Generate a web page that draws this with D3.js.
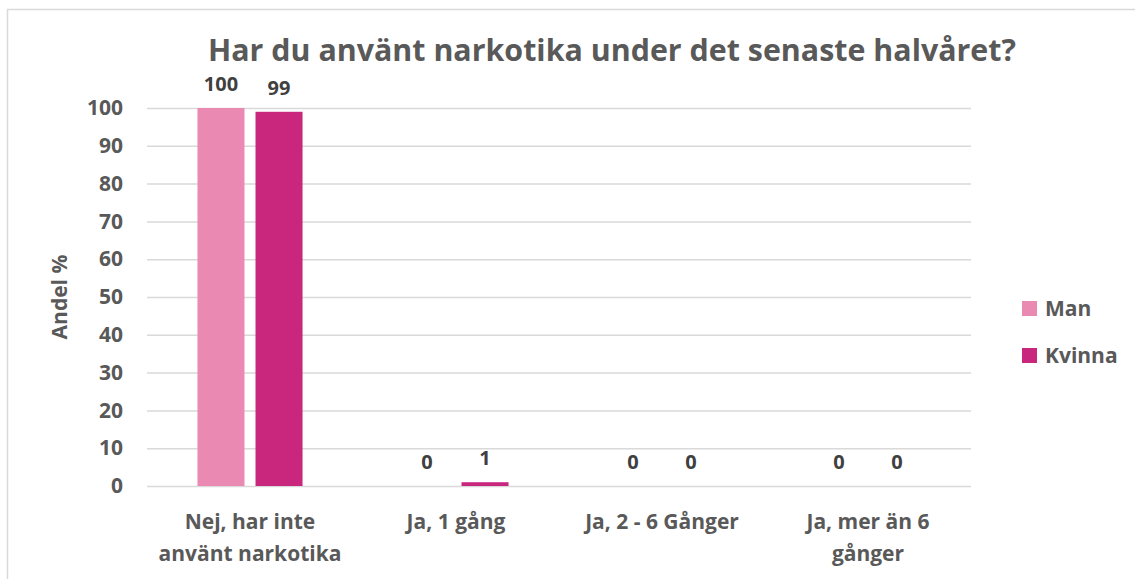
<!DOCTYPE html>
<html>
<head>
<meta charset="utf-8">
<script src="https://cdn.jsdelivr.net/npm/d3@7"></script>
<style>
  html, body { margin: 0; padding: 0; background: #fff; }
  svg { display: block; font-family: "Open Sans", Lato, sans-serif; font-weight: 700; }
</style>
</head>
<body>
<svg id="chart" width="1135" height="579"></svg>
<script>
// Survey answers: share of respondents (%) per answer, by gender
const categories = [
  ["Nej, har inte", "använt narkotika"],
  ["Ja, 1 gång"],
  ["Ja, 2 - 6 Gånger"],
  ["Ja, mer än 6", "gånger"]
];
const seriesNames = ["Man", "Kvinna"];
const manValues = [100, 0, 0, 0];
const kvinnaValues = [99, 1, 0, 0];
const yTicks = [0, 10, 20, 30, 40, 50, 60, 70, 80, 90, 100];
const titleText = "Har du använt narkotika under det senaste halvåret?";
const yLabel = "Andel %";

const colors = ["#EA8AB3", "#C9277E"];
const seriesValues = [manValues, kvinnaValues];

const svg = d3.select("#chart");
const W = 1135, H = 579;
const plot = { left: 147, right: 971, top: 108, bottom: 486 };
const textFont = "\"Open Sans\", sans-serif";

// chart frame
svg.append("path")
  .attr("d", `M7.5,${H} V9.5 H${W}`)
  .attr("fill", "none")
  .attr("stroke", "#d9d9d9")
  .attr("stroke-width", 1.5);

const x0 = d3.scaleBand()
  .domain(d3.range(categories.length))
  .range([plot.left, plot.right])
  .paddingInner(0.49)
  .paddingOuter(0.245);

const x1 = d3.scaleBand()
  .domain(d3.range(seriesNames.length))
  .range([0, x0.bandwidth()])
  .paddingInner(0.19);

const y = d3.scaleLinear().domain([0, 100]).range([plot.bottom, plot.top]);

// gridlines and tick labels
const yAxis = d3.axisLeft(y)
  .tickValues(yTicks)
  .tickSize(-(plot.right - plot.left))
  .tickPadding(24);

const gy = svg.append("g")
  .attr("transform", `translate(${plot.left},0)`)
  .call(yAxis);
gy.select(".domain").remove();
gy.selectAll(".tick line").attr("stroke", "#d9d9d9").attr("stroke-width", 1.5);
gy.selectAll(".tick text")
  .attr("fill", "#595959")
  .style("font-size", "21px")
  .style("font-family", textFont)
  .style("font-weight", 700);

// bars
const groups = svg.append("g").selectAll("g")
  .data(categories.map((c, i) => i))
  .join("g")
  .attr("transform", i => `translate(${x0(i)},0)`);

groups.selectAll("rect")
  .data(i => seriesValues.map((vals, s) => ({ s, v: vals[i] })))
  .join("rect")
  .attr("x", d => x1(d.s))
  .attr("width", x1.bandwidth())
  .attr("y", d => y(d.v))
  .attr("height", d => y(0) - y(d.v))
  .attr("fill", d => colors[d.s]);

// value labels
groups.selectAll("text.val")
  .data(i => seriesValues.map((vals, s) => ({ s, v: vals[i] })))
  .join("text")
  .attr("class", "val")
  .attr("x", d => x1(d.s) + x1.bandwidth() / 2)
  .attr("y", d => y(d.v) - 17)
  .attr("text-anchor", "middle")
  .attr("fill", "#404040")
  .style("font-size", "20px")
  .text(d => d.v);

// category labels
const catText = svg.append("g").selectAll("text")
  .data(categories)
  .join("text")
  .attr("x", (c, i) => x0(i) + x0.bandwidth() / 2)
  .attr("y", 529)
  .attr("text-anchor", "middle")
  .attr("fill", "#595959")
  .style("font-size", "21px");
catText.selectAll("tspan")
  .data(c => c)
  .join("tspan")
  .attr("x", function () { return d3.select(this.parentNode).attr("x"); })
  .attr("dy", (d, j) => j === 0 ? 0 : 32)
  .text(d => d);

// y-axis title
svg.append("text")
  .attr("transform", "translate(67,297) rotate(-90)")
  .attr("text-anchor", "middle")
  .attr("fill", "#595959")
  .style("font-size", "21px")
  .text(yLabel);

// chart title
svg.append("text")
  .attr("x", 612)
  .attr("y", 60.5)
  .attr("text-anchor", "middle")
  .attr("fill", "#595959")
  .style("font-size", "30px")
  .attr("textLength", 808)
  .attr("lengthAdjust", "spacingAndGlyphs")
  .text(titleText);

// legend
const legend = svg.append("g").selectAll("g")
  .data(seriesNames)
  .join("g")
  .attr("transform", (d, i) => `translate(1022,${301 + i * 47})`);
legend.append("rect")
  .attr("width", 15).attr("height", 15)
  .attr("fill", (d, i) => colors[i]);
legend.append("text")
  .attr("x", 23).attr("y", 15)
  .attr("fill", "#595959")
  .style("font-size", "21px")
  .text(d => d);
</script>
</body>
</html>
